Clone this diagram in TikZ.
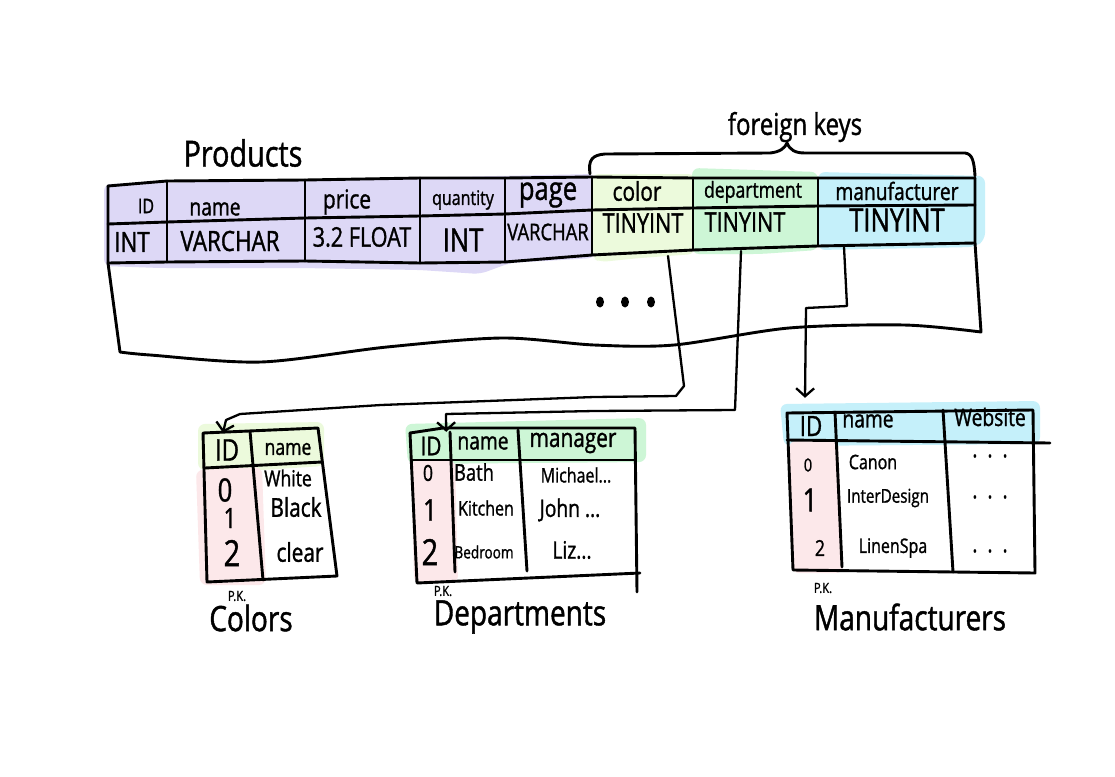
\documentclass[tikz,border=0pt]{standalone}
\usepackage{fontspec}
\setmainfont{Open Sans}[FakeStretch=0.8, FakeBold=1.2]
\usetikzlibrary{arrows.meta}
\newcommand\fsz[1]{\fontsize{#1}{#1}\selectfont}
\definecolor{fkprp}{RGB}{221,216,246}
\definecolor{fklime}{RGB}{236,250,220}
\definecolor{fkmint}{RGB}{205,246,214}
\definecolor{fkcyan}{RGB}{197,240,250}
\definecolor{fkpink}{RGB}{252,232,234}
\begin{document}
\begin{tikzpicture}[x=1pt,y=-1pt,
  ln/.style={line width=2.9pt, line cap=round, line join=round},
  conn/.style={line width=2.3pt, line cap=round, line join=round},
  hw/.style={inner sep=0pt, font=\fsz{#1}},
  tipv/.style={-{Straight Barb[length=8pt,width=18pt]}},
  blob/.style={rounded corners=7pt}
]
\useasboundingbox[fill=white] (0,0) rectangle (1115,776);

% ---------- Products fills ----------
\fill[fkprp,blob] (104,184) -- (595,174) -- (595,258) -- (510,263) -- (480,274) -- (420,270) -- (300,268) -- (160,268) -- (104,266) -- cycle;
\fill[fklime,blob] (592,174) -- (695,174) -- (695,254) -- (640,258) -- (600,262) -- (592,258) -- cycle;
\fill[fkmint,blob] (692,168) -- (818,172) -- (818,250) -- (760,254) -- (692,254) -- cycle;
\fill[fkcyan,blob] (818,172) -- (985,176) -- (985,240) -- (975,247) -- (818,250) -- cycle;

% ---------- Products grid ----------
\draw[ln] (108,186) -- (167,181) -- (305,180) -- (420,178) -- (505,178) -- (592,177) -- (693,178) -- (818,178) -- (975,178);
\draw[ln] (108,224) -- (167,222) -- (305,218) -- (420,216) -- (505,214) -- (592,210) -- (693,208) -- (818,206) -- (975,205);
\draw[ln] (108,263) -- (167,262) -- (305,261) -- (420,263) -- (505,262) -- (592,255) -- (693,250) -- (818,246) -- (975,243);
\foreach \xa/\ya/\yb in {167/181/262, 305/180/261, 420/178/263, 505/178/262, 592/177/255, 693/178/250, 818/178/246}
  \draw[ln] (\xa,\ya) -- (\xa,\yb);
\draw[ln] (108,186) -- (108,263) -- (120,352) -- plot[smooth] coordinates {(120,352) (150,355) (261,362) (387,347) (502,338) (594,345) (674,345) (789,328) (904,325) (981,332)} -- (975,243) -- (975,178);

% ---------- Products text ----------
\node[hw=36] (products) at (243,153) {Products};
\node[hw=30] (fk) at (795,127) {foreign keys};
\draw[ln] (590,174) .. controls (588,160) and (592,155) .. (605,154) -- (770,153) .. controls (780,152) and (785,148) .. (787,143) .. controls (790,150) and (795,153) .. (805,153) -- (965,153) .. controls (972,154) and (974,160) .. (975,176);

\node[hw=20] (pID) at (146,206) {ID};
\node[hw=24] (pName) at (215,209) {name};
\node[hw=26] (pPrice) at (347,202) {price};
\node[hw=20] (pQty) at (463,200) {quantity};
\node[hw=32] (pPage) at (548,195) {page};
\node[hw=26] (pColor) at (637,191) {color};
\node[hw=22] (pDept) at (753,192) {department};
\node[hw=24] (pManu) at (897,191) {manufacturer};

\node[hw=28] (pIDt) at (132,242) {INT};
\node[hw=28] (pNameT) at (230,241) {VARCHAR};
\node[hw=27] (pPriceT) at (362,237) {3.2 FLOAT};
\node[hw=32] (pQtyT) at (463,240) {INT};
\node[hw=23] (pPageT) at (548,232) {VARCHAR};
\node[hw=27] (pColorT) at (643,223) {TINYINT};
\node[hw=27] (pDeptT) at (745,222) {TINYINT};
\node[hw=32] (pManuT) at (897,220) {TINYINT};

\foreach \dx in {600,625,651}
  \fill (\dx,302) ellipse [x radius=4pt, y radius=5.5pt];

% ---------- Colors table ----------
\fill[fklime,blob] (198,424) -- (324,422) -- (324,466) -- (262,470) -- (198,470) -- cycle;
\fill[fkpink,blob] (196,470) -- (262,467) -- (266,585) -- (200,585) -- cycle;
\draw[ln] (203,433) -- (318,428) -- (337,576) -- (207,582) -- cycle;
\draw[ln] (250,431) -- (263,580);
\draw[ln] (205,468) -- (322,462);
\node[hw=30, minimum width=44pt, minimum height=34pt] (cID) at (227,450) {ID};
\node[hw=22] (cName) at (288,449) {name};
\node[hw=32] at (225,490) {0};
\node[hw=28] at (230,518) {1};
\node[hw=36] at (232,553) {2};
\node[hw=22] at (288,478) {White};
\node[hw=26] at (296,507) {Black};
\node[hw=26] at (300,552) {clear};
\node[hw=14] at (237,596) {P.K.};
\node[hw=35] (colors) at (251,618) {Colors};

% ---------- Departments table ----------
\fill[fkmint,blob] (405,424) -- (646,418) -- (646,462) -- (408,464) -- cycle;
\fill[fkpink,blob] (411,460) -- (455,460) -- (458,583) -- (414,583) -- cycle;
\draw[ln] (410,433) -- (443,428) -- (635,428) -- (637,592);
\draw[ln] (410,433) -- (417,583) -- (640,573);
\draw[ln] (450,432) -- (455,572);
\draw[ln] (518,430) -- (527,571);
\draw[ln] (411,460) -- (635,460);
\node[hw=26, minimum width=38pt, minimum height=28pt] (dID) at (431,446) {ID};
\node[hw=24] at (483,443) {name};
\node[hw=26] at (573,443) {manager};
\node[hw=22] at (428,473) {0};
\node[hw=30] at (430,510) {1};
\node[hw=36] at (430,552) {2};
\node[hw=23] at (474,472) {Bath};
\node[hw=20] at (486,508) {Kitchen};
\node[hw=17] at (484,552) {Bedroom};
\node[hw=20] at (576,475) {Michael...};
\node[hw=24] at (570,510) {John ...};
\node[hw=24] at (572,550) {Liz...};
\node[hw=14] at (443,591) {P.K.};
\node[hw=35] (depts) at (520,617) {Departments};

% ---------- Manufacturers table ----------
\fill[fkcyan,blob] (780,404) -- (1040,401) -- (1040,444) -- (784,446) -- cycle;
\fill[fkpink,blob] (789,441) -- (838,441) -- (843,573) -- (792,573) -- cycle;
\draw[ln] (787,413) -- (1033,410) -- (1035,573) -- (793,570) -- cycle;
\draw[ln] (835,412) -- (842,567);
\draw[ln] (943,410) -- (953,572);
\draw[ln] (787,440) -- (1050,443);
\node[hw=28, minimum width=46pt, minimum height=28pt] (mID) at (811,426) {ID};
\node[hw=24] at (868,421) {name};
\node[hw=24] at (990,417) {Website};
\node[hw=18] at (808,465) {0};
\node[hw=32] at (810,500) {1};
\node[hw=22] at (820,548) {2};
\node[hw=20] at (873,462) {Canon};
\node[hw=19] at (888,498) {InterDesign};
\node[hw=20] at (893,548) {LinenSpa};
\node[hw=24] at (990,456) {.\ \ .\ \ .};
\node[hw=24] at (990,497) {.\ \ .\ \ .};
\node[hw=24] at (990,551) {.\ \ .\ \ .};
\node[hw=14] at (823,588) {P.K.};
\node[hw=35] (manus) at (910,617) {Manufacturers};

% ---------- connectors ----------
\coordinate (colorBot) at (668,256);
\coordinate (deptBot) at (741,251);
\coordinate (manuBot) at (844,247);
\draw[conn,tipv] (colorBot) -- (684,386) -- (676,396) -- (594,397) -- (381,405) -- (240,414) -- (226,420) -- ([xshift=-4pt]cID.north);
\draw[conn,tipv] (deptBot) -- (735,410) -- (594,411) -- (446,414) -- ([xshift=-4pt]dID.north east);
\draw[conn,tipv] (manuBot) -- (847,306) -- (806,308) -- ([xshift=-6pt,yshift=14pt]mID.north);
\end{tikzpicture}
\end{document}
